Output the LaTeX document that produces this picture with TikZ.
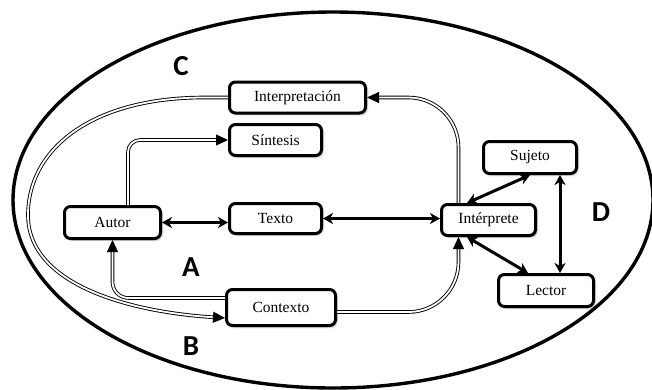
\documentclass[tikz,border=0pt]{standalone}
\usepackage{fontspec}
\setmainfont{Liberation Serif}
\newfontfamily\letfont{Carlito}
\usetikzlibrary{arrows.meta,shadows.blur,calc}
\begin{document}
\begin{tikzpicture}[x=1pt,y=-1pt,
  box/.style={draw, line width=3pt, rounded corners=6pt, fill=white, inner sep=0pt,
    font=\fontsize{15.5}{18}\selectfont,
    blur shadow={shadow xshift=1.5pt, shadow yshift=-1.5pt, shadow blur steps=4, shadow opacity=35}},
  dbl/.style={double, double distance=1.8pt, line width=0.9pt, -{Triangle[length=12pt,width=11pt]}},
  bi/.style={line width=3pt, {Stealth[length=10pt,width=11pt,inset=3pt]}-{Stealth[length=10pt,width=11pt,inset=3pt]}},
  letter/.style={font=\letfont\bfseries\fontsize{29}{30}\selectfont}
]
\useasboundingbox (0,0) rectangle (652,389);
\draw[line width=3.4pt] (333,200) ellipse [x radius=320pt, y radius=188pt];

\node[box, minimum width=136pt, minimum height=31pt] (interp) at (297.5,97.5) {Interpretación};
\node[box, minimum width=92pt, minimum height=31pt] (sint) at (275.5,140) {Síntesis};
\node[box, minimum width=96pt, minimum height=32pt] (autor) at (112.5,222.5) {Autor};
\node[box, minimum width=92pt, minimum height=30pt] (texto) at (275.5,218.5) {Texto};
\node[box, minimum width=109pt, minimum height=36pt] (contexto) at (281,307.5) {Contexto};
\node[box, minimum width=94pt, minimum height=31pt] (interprete) at (488.5,220) {Intérprete};
\node[box, minimum width=93pt, minimum height=32pt] (sujeto) at (530,157.5) {Sujeto};
\node[box, minimum width=95pt, minimum height=32pt] (lector) at (546,290.5) {Lector};

\node[letter] (C) at (181,66) {C};
\node[letter] (A) at (191,267) {A};
\node[letter] (B) at (191,346) {B};
\node[letter] (D) at (601,212) {D};

% double connectors
\draw[dbl, rounded corners=12pt] ([xshift=15.5pt]autor.north) |- (sint.west);
\draw[dbl] (interp.west) -- ++(-25,0) .. controls (90,98) and (28,150) .. (28,215)
  .. controls (28,285) and (130,312) .. ([yshift=-10.5pt]contexto.west);
\draw[dbl, rounded corners=16pt] ([yshift=9.5pt]contexto.west) -| (autor.south);
\draw[dbl, rounded corners=50pt] ([xshift=-30pt]interprete.north) |- (interp.east);
\draw[dbl, rounded corners=50pt] ([yshift=-4.5pt]contexto.east) -| ([xshift=-30pt]interprete.south);

% single bidirectional connectors
\draw[bi] (autor.east) -- (texto.west |- autor.east);
\draw[bi] (texto.east) -- (interprete.west |- texto.east);
\draw[bi] ([xshift=-21.5pt]interprete.north) -- (sujeto.south);
\draw[bi] ([xshift=-21.5pt]interprete.south) -- ([xshift=-18pt]lector.north);
\draw[bi] ([xshift=30pt]sujeto.south) -- ([xshift=30pt]sujeto.south |- lector.north);
\end{tikzpicture}
\end{document}
